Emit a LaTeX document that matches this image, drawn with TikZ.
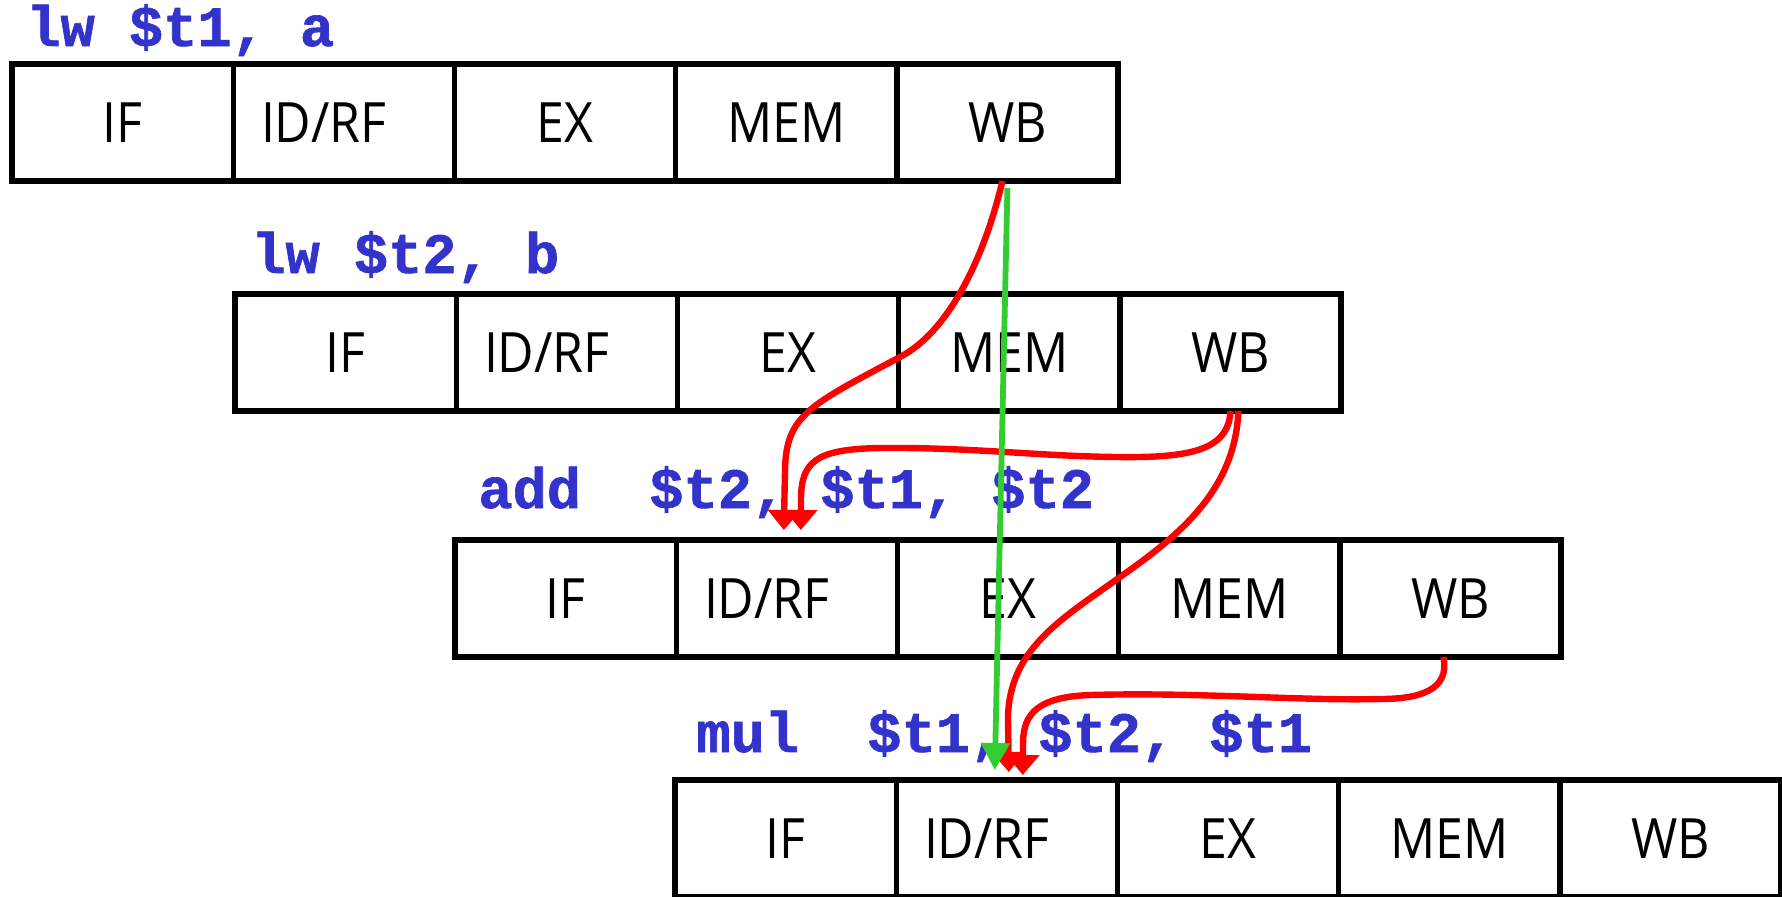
\documentclass[tikz,border=0pt]{standalone}
\usepackage{fontspec}
\setmainfont{Open Sans}
\newfontfamily\instrfont{Liberation Mono}[FakeBold=1.2]
\newfontfamily\stagefont{Open Sans}[FakeStretch=0.9]
\usetikzlibrary{arrows.meta,calc}
\definecolor{instrblue}{RGB}{51,51,204}
\definecolor{fwdred}{RGB}{255,0,0}
\definecolor{fwdgreen}{RGB}{51,204,51}
\begin{document}
\begin{tikzpicture}[x=0.5pt,y=-0.5pt,
  cell/.style={draw, line width=2.7pt, minimum width=110.6pt, minimum height=58.5pt,
    inner sep=0pt, outer sep=0pt, anchor=north west,
    font={\stagefont\fontsize{27.8pt}{30pt}\selectfont}},
  instr/.style={text=instrblue, anchor=base west, inner sep=0pt,
    font={\instrfont\bfseries\fontsize{28.5pt}{30pt}\selectfont}},
  redfwd/.style={draw=fwdred, line width=3.2pt, -{Triangle[width=16pt,length=10pt]}},
  greenfwd/.style={draw=fwdgreen, line width=2.9pt, -{Triangle[width=14pt,length=13.5pt]}}]
\useasboundingbox (0,0) rectangle (1782,896);
\foreach \row/\xx/\yy in {1/12/64, 2/235/294, 3/455/540, 4/675/780} {
  \node[cell] (r\row-1) at (\xx,\yy) {IF};
  \node[cell] (r\row-2) at (r\row-1.north east) {ID/RF\hspace*{20pt}};
  \node[cell] (r\row-3) at (r\row-2.north east) {EX};
  \node[cell] (r\row-4) at (r\row-3.north east) {MEM};
  \node[cell] (r\row-5) at (r\row-4.north east) {WB};
}
\node[instr] (i1) at (26,46) {lw \$t1, a};
\node[instr] (i2) at (251,273) {lw \$t2, b};
\node[instr] (i3) at (478,508) {add~~\$t2, \$t1, \$t2};
\node[instr] (i4) at (696,752) {mul~~\$t1, \$t2, \$t1};
% connector end points
\coordinate (s1) at ($(r1-5.south)+(-5,0)$);
\coordinate (t1) at ($(r3-2.north)+(-3,-10)$);
\coordinate (s2) at ($(r2-5.south)+(0,0)$);
\coordinate (t2) at ($(r3-2.north)+(14,-10)$);
\coordinate (s3) at ($(r2-5.south)+(8,0)$);
\coordinate (t3) at ($(r4-2.north)+(2,-8)$);
\coordinate (s4) at ($(r3-5.south)+(-7,0)$);
\coordinate (t4) at ($(r4-2.north)+(16,-5)$);
\coordinate (g1) at ($(r1-5.south)+(0,7)$);
\coordinate (g2) at ($(r4-2.north)+(-12,-10)$);
% red forwarding paths
\draw[redfwd] (s1) .. controls (985,255) and (950,331) .. (900,357)
  .. controls (810,405) and (786,415) .. (785,470) -- (t1);
\draw[redfwd] (s2) .. controls (1229,445) and (1200,456) .. (1140,457)
  .. controls (1050,458) and (980,447) .. (880,448)
  .. controls (815,449) and (801,462) .. (801,500) -- (t2);
\draw[redfwd] (s3) .. controls (1235,490) and (1180,535) .. (1120,577)
  .. controls (1060,620) and (1008,650) .. (1008,720) -- (t3);
\draw[redfwd] (s4) .. controls (1450,690) and (1420,699) .. (1380,699)
  .. controls (1300,701) and (1200,692) .. (1090,695)
  .. controls (1030,697) and (1023,720) .. (1023,745) -- (t4);
% green path
\draw[greenfwd] (g1) -- (g2);
\end{tikzpicture}
\end{document}
